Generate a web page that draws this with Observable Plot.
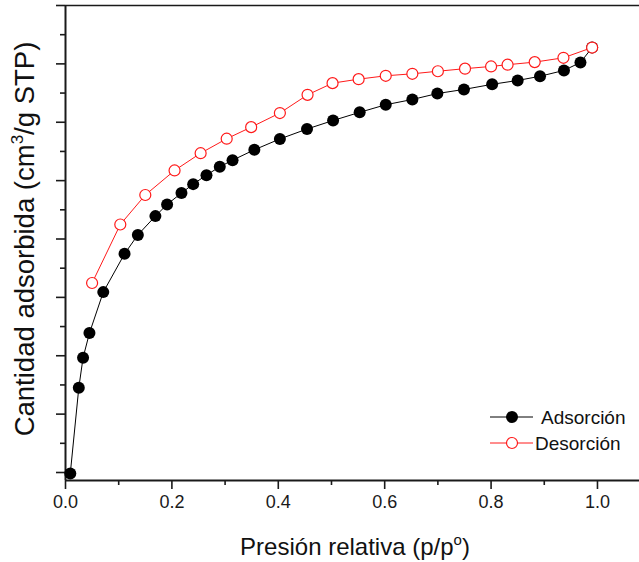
<!DOCTYPE html>
<html><head><meta charset="utf-8">
<script src="https://cdn.jsdelivr.net/npm/d3@7"></script>
<script src="https://cdn.jsdelivr.net/npm/@observablehq/plot@0.6"></script>
<style>body{margin:0;background:#fff}</style>
</head><body><div id="chart"></div>
<script>
// Adsorción (relative pressure p/p°, adsorbed quantity, arbitrary units: major tick = 50)
const adsP = [0.009,0.025,0.033,0.045,0.071,0.111,0.136,0.169,0.191,0.218,0.240,0.265,0.290,0.314,0.355,0.403,0.454,0.503,0.553,0.602,0.652,0.699,0.749,0.802,0.850,0.892,0.937,0.968,0.990];
const adsV = [-0.9,72.6,98.3,119.4,154.5,187.3,203.5,219.6,229.6,239.4,247.0,254.7,261.9,267.5,276.4,285.7,294.2,301.5,308.5,315.0,319.5,324.6,328.1,332.5,335.8,339.4,344.4,351.2,364.0];
// Desorción
const desP = [0.050,0.103,0.150,0.205,0.254,0.303,0.349,0.403,0.455,0.502,0.551,0.602,0.652,0.700,0.751,0.800,0.831,0.882,0.936,0.990];
const desV = [162.3,212.4,237.7,258.7,273.5,285.9,295.8,307.9,323.5,333.5,336.9,339.8,341.5,343.7,345.9,347.8,349.3,351.5,355.2,364.0];

const xTicks = [0, 0.2, 0.4, 0.6, 0.8, 1.0];
const xMinor = [0.1, 0.3, 0.5, 0.7, 0.9];
const yTicks = [0, 50, 100, 150, 200, 250, 300, 350, 400];
const yMinor = [25, 75, 125, 175, 225, 275, 325, 375];
const seriesNames = ["Adsorción", "Desorción"];

const ads = adsP.map((p, i) => ({p, v: adsV[i]}));
const des = desP.map((p, i) => ({p, v: desV[i]}));

const FONT = '"Liberation Sans", Arial, Helvetica, sans-serif';
const RED = "#ff1a1a";
const yMin = -6.85, yMax = 400;

const chart = Plot.plot({
  width: 639, height: 562,
  marginLeft: 65, marginRight: 0, marginTop: 5, marginBottom: 82,
  style: {fontFamily: FONT, color: "#1a1a1a", background: "#fff", overflow: "visible"},
  x: {domain: [0, 1.079]},
  y: {domain: [yMin, yMax]},
  marks: [
    Plot.axisX(xTicks, {tickSize: 9, tickPadding: 6, tickFormat: d3.format(".1f"), fontSize: 18, label: null, strokeWidth: 1.6}),
    Plot.axisX(xMinor, {tickSize: 5, tickFormat: () => "", label: null, strokeWidth: 1.6}),
    Plot.axisY(yTicks, {tickSize: 9, tickFormat: () => "", label: null, strokeWidth: 1.6}),
    Plot.axisY(yMinor, {tickSize: 5, tickFormat: () => "", label: null, strokeWidth: 1.6}),
    Plot.ruleY([yMax], {stroke: "#1a1a1a", strokeWidth: 1.6}),
    Plot.ruleY([yMin], {stroke: "#1a1a1a", strokeWidth: 2}),
    Plot.ruleX([0], {stroke: "#1a1a1a", strokeWidth: 2}),
    Plot.line(ads, {x: "p", y: "v", stroke: "#000", strokeWidth: 1}),
    Plot.dot(ads, {x: "p", y: "v", r: 6, fill: "#000", stroke: "none"}),
    Plot.line(des, {x: "p", y: "v", stroke: RED, strokeWidth: 1}),
    Plot.dot(des, {x: "p", y: "v", r: 5.5, fill: "#fff", stroke: RED, strokeWidth: 1.2})
  ]
});
document.getElementById("chart").appendChild(chart);

const svg = d3.select(chart);
// axis titles
const xt = svg.append("text").attr("x", 355).attr("y", 555).attr("text-anchor", "middle")
  .attr("font-size", 24).attr("font-family", FONT).attr("fill", "#111");
xt.append("tspan").text("Presión relativa (p/p");
xt.append("tspan").attr("font-size", 15).attr("dy", -10).text("o");
xt.append("tspan").attr("dy", 10).text(")");

const yt = svg.append("text").attr("transform", "translate(34,239) rotate(-90)").attr("text-anchor", "middle")
  .attr("font-size", 27.5).attr("font-family", FONT).attr("fill", "#111");
yt.append("tspan").text("Cantidad adsorbida (cm");
yt.append("tspan").attr("font-size", 17).attr("dy", -11).text("3");
yt.append("tspan").attr("dy", 11).text("/g STP)");

// legend
const lg = svg.append("g").attr("font-family", FONT).attr("font-size", 19).attr("fill", "#111").attr("text-anchor", "start");
lg.append("line").attr("x1", 490).attr("x2", 533).attr("y1", 417).attr("y2", 417).attr("stroke", "#000");
lg.append("circle").attr("cx", 512).attr("cy", 417).attr("r", 6).attr("fill", "#000");
lg.append("text").attr("x", 541).attr("y", 424).text(seriesNames[0]);
lg.append("line").attr("x1", 490).attr("x2", 533).attr("y1", 443).attr("y2", 443).attr("stroke", RED);
lg.append("circle").attr("cx", 512).attr("cy", 443).attr("r", 5.5).attr("fill", "#fff").attr("stroke", RED).attr("stroke-width", 1.2);
lg.append("text").attr("x", 535).attr("y", 450).text(seriesNames[1]);
</script>
</body></html>
